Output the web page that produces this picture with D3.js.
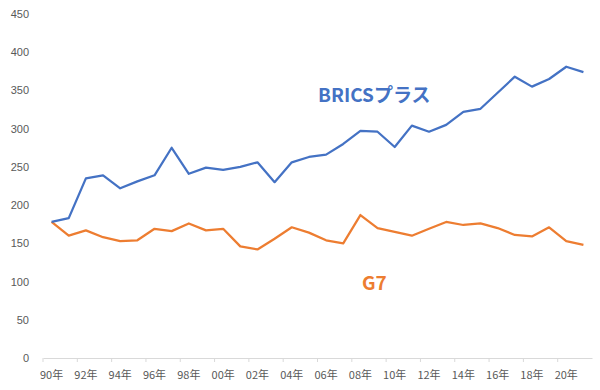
<!DOCTYPE html>
<html>
<head>
<meta charset="utf-8">
<script src="https://cdn.jsdelivr.net/npm/d3@7"></script>
<style>
  body { margin: 0; background: #fff; }
  svg { display: block; font-family: "Noto Sans CJK JP", "DejaVu Sans", sans-serif; }
</style>
</head>
<body>
<svg id="chart"></svg>
<script>
// years 1990..2021
var years = d3.range(1990, 2022)
var tickLabels = ["90年","92年","94年","96年","98年","00年","02年","04年","06年","08年","10年","12年","14年","16年","18年","20年"]
var yTicks = [0, 50, 100, 150, 200, 250, 300, 350, 400, 450]

var brics = [178,183,235,239,222,231,239,275,241,249,246,250,256,230,256,263,266,280,297,296,276,304,296,305,322,326,347,368,355,365,381,374]
var g7 = [178,160,167,158,153,154,169,166,176,167,169,146,142,156,171,164,154,150,187,170,165,160,169,178,174,176,170,161,159,171,153,148]

var dimensions = {
  width: 600,
  height: 390,
  margin: { top: 14, bottom: 32, right: 8, left: 43 }
}

var svg = d3.select("#chart")
  .attr("width", dimensions.width)
  .attr("height", dimensions.height)

var xScale = d3.scaleBand()
  .domain(years)
  .range([dimensions.margin.left, dimensions.width - dimensions.margin.right])

var yScale = d3.scaleLinear()
  .domain([0, 450])
  .range([dimensions.height - dimensions.margin.bottom, dimensions.margin.top])

var xc = d => xScale(d) + xScale.bandwidth() / 2

// y axis labels
var yAxis = svg.append("g")
  .attr("transform", `translate(${dimensions.margin.left - 14},0)`)
  .call(d3.axisLeft(yScale).tickValues(yTicks).tickSize(0).tickPadding(0))
yAxis.select(".domain").remove()
yAxis.selectAll("text").attr("fill", "#595959").style("font-size", "11px")

// x axis
var x0 = yScale(0)
var xAxis = svg.append("g")
  .attr("transform", `translate(0,${x0})`)
  .call(d3.axisBottom(xScale).tickValues([]).tickSizeOuter(0))
xAxis.select(".domain").attr("stroke", "#d9d9d9")

// small tick marks at category boundaries
svg.append("g")
  .selectAll("line")
  .data(years.filter((d, i) => i % 2 == 0))
  .enter()
  .append("line")
  .attr("x1", d => xScale(d))
  .attr("x2", d => xScale(d))
  .attr("y1", x0)
  .attr("y2", x0 + 4)
  .attr("stroke", "#d9d9d9")

svg.append("g")
  .selectAll("text")
  .data(tickLabels)
  .enter()
  .append("text")
  .attr("x", (d, i) => xc(years[i * 2]))
  .attr("y", x0 + 21)
  .attr("text-anchor", "middle")
  .attr("fill", "#595959")
  .style("font-size", "11px")
  .text(d => d)

var line = d3.line()
  .x((d, i) => xc(years[i]))
  .y(d => yScale(d))

svg.append("path")
  .datum(g7)
  .attr("fill", "none")
  .attr("stroke", "#ED7D31")
  .attr("stroke-width", 2.25)
  .attr("stroke-linejoin", "round")
  .attr("d", line)

svg.append("path")
  .datum(brics)
  .attr("fill", "none")
  .attr("stroke", "#4472C4")
  .attr("stroke-width", 2.25)
  .attr("stroke-linejoin", "round")
  .attr("d", line)

// series labels
svg.append("text")
  .attr("x", 318)
  .attr("y", 102)
  .attr("fill", "#4472C4")
  .style("font-size", "19px")
  .style("font-weight", "bold")
  .text("BRICSプラス")

svg.append("text")
  .attr("x", 362)
  .attr("y", 290)
  .attr("fill", "#ED7D31")
  .style("font-size", "19px")
  .style("font-weight", "bold")
  .text("G7")
</script>
</body>
</html>
